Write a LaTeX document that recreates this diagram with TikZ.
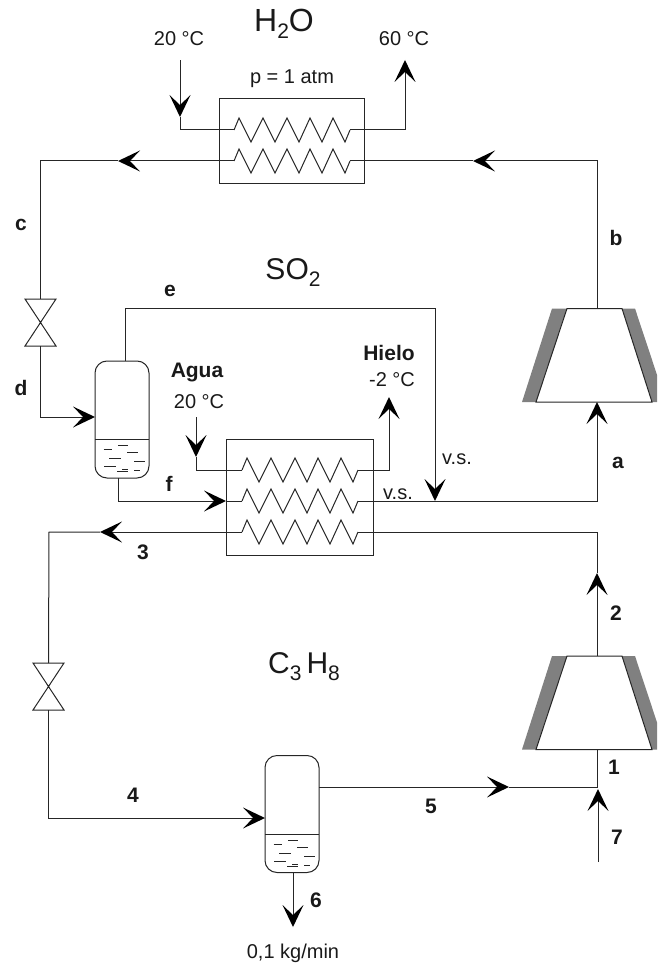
\documentclass[tikz,border=0pt]{standalone}
\usepackage{fontspec}
\setmainfont{Liberation Sans}
\usetikzlibrary{arrows.meta}
\newcommand{\subs}[1]{\raisebox{-7pt}{\fontsize{21}{24}\selectfont #1}}
\tikzset{
  x=1pt,y=-1pt,
  pipe/.style={line width=1pt,draw=black!85},
  flow/.style={pipe,-{Stealth[length=22pt,width=21pt,inset=10pt,line width=0pt,fill=black]}},
  lbl/.style={font=\fontsize{20}{24}\selectfont,inner sep=0pt,text=black!90},
  blbl/.style={font=\fontsize{21}{24}\selectfont\bfseries,inner sep=0pt,text=black!90},
  big/.style={font=\fontsize{30}{34}\selectfont,inner sep=0pt,text=black!90},
  box/.style={pipe,rectangle,inner sep=0pt,minimum width=#1},
  sepbox/.style={pipe,rectangle,rounded corners=12pt,inner sep=0pt,minimum width=54pt,minimum height=117pt},
  zig/.pic={
    \draw[pipe] (0,0)--(5,-12)--(17,12)--(29,-12)--(41,12)--(53,-12)--(65,12)--(76,-12)--(88,12)--(99,-12)--(111,12)--(116,0);
    \coordinate (-in) at (0,0);
    \coordinate (-out) at (116,0);
  },
  valvepic/.pic={
    \draw[pipe,line join=miter] (-15.5,-23.5)--(15.5,-23.5)--(-15.5,23.5)--(15.5,23.5)--cycle;
    \coordinate (-top) at (0,-23.5);
    \coordinate (-bot) at (0,23.5);
  },
  liquid/.pic={
    \draw[pipe,line width=.8pt]
      (8.5,10)--(17,10) (23,6)--(33,6) (32,13)--(43,13) (14,19.5)--(26,19.5)
      (39,22)--(50,22) (9,27.5)--(21,27.5) (22,32)--(33,32) (27,30.5)--(33,30.5) (39,31)--(45,31);
  },
  compressor/.pic={
    \fill[black!50] (-45,0)--(-30,0)--(-61,93.5)--(-75,93.5)--cycle;
    \fill[black!50] (25,0)--(38,0)--(69,93.5)--(55,93.5)--cycle;
    \draw[pipe,fill=white] (-30,0)--(25,0)--(55,93.5)--(-61,93.5)--cycle;
    \coordinate (-top) at (0,0);
    \coordinate (-bot) at (0,93.5);
  }
}
\begin{document}
\begin{tikzpicture}
\useasboundingbox (0,0) rectangle (657,968);
\clip (0,0) rectangle (657,968);

% heat exchangers
\node[box=145pt,draw,minimum height=85pt] (hx1) at (291.5,141.5) {};
\pic (z1) at (234,130) {zig};
\pic (z2) at (234,161) {zig};
\node[box=147pt,draw,minimum height=116pt] (hx2) at (299.5,497) {};
\pic (z3) at (242,470) {zig};
\pic (z4) at (242,501) {zig};
\pic (z5) at (242,532) {zig};

% valves
\pic (v1) at (40.5,322.5) {valvepic};
\pic (v2) at (48.5,686.5) {valvepic};

% separators
\node[sepbox,draw] (s1) at (122,419.5) {};
\draw[pipe] (95,439) -- (149,439);
\pic at (95,439) {liquid};
\node[sepbox,draw] (s2) at (292,814) {};
\draw[pipe] (265,834) -- (319,834);
\pic at (265,834) {liquid};

% compressors
\pic (c1) at (597,308.5) {compressor};
\pic (c2) at (597,656) {compressor};

% named points
\coordinate (w1s) at (180,60.5);
\coordinate (w1t) at (180,117);
\coordinate (w1c) at (180,130);
\coordinate (w2c) at (405,130);
\coordinate (w2t) at (405,60);
\coordinate (ba) at (473,161);
\coordinate (bc) at (597,161);
\coordinate (ca) at (118,161);
\coordinate (cc) at (40.5,161);
\coordinate (dc) at (40.5,417);
\coordinate (dt) at (95,417);
\coordinate (es) at (125,361);
\coordinate (e1) at (125,308.5);
\coordinate (e2) at (435,308.5);
\coordinate (et) at (435,501);
\coordinate (fs) at (118,478);
\coordinate (f1) at (118,501);
\coordinate (ft) at (226,501);
\coordinate (as) at (597,501);
\coordinate (hc) at (389,470);
\coordinate (ht) at (389,397);
\coordinate (ag0) at (196,417);
\coordinate (agt) at (196,457);
\coordinate (agc) at (196,470);
\coordinate (t3) at (100,532);
\coordinate (c3) at (49,532);
\coordinate (c4) at (48.5,818);
\coordinate (t4) at (265,818);
\coordinate (o5) at (319,787);
\coordinate (t5) at (509,787);
\coordinate (j5) at (597,787);
\coordinate (s7) at (598,862);
\coordinate (t7) at (598,789);
\coordinate (o6) at (293,873);
\coordinate (t6) at (293,927);
\coordinate (r2) at (597,532);
\coordinate (t2) at (597,573);

% upper water loop
\draw[flow] (w1s) -- (w1t);
\draw[pipe] (w1t) -- (w1c) -- (z1-in);
\draw[flow] (z1-out) -- (w2c) -- (w2t);

% SO2 loop
\draw[flow] (c1-top) -- (bc) -- (ba);
\draw[pipe] (ba) -- (z2-out);
\draw[flow] (z2-in) -- (ca);
\draw[pipe] (ca) -- (cc) -- (v1-top);
\draw[flow] (v1-bot) -- (dc) -- (dt);
\draw[flow] (es) -- (e1) -- (e2) -- (et);
\draw[flow] (fs) -- (f1) -- (ft);
\draw[pipe] (ft) -- (z4-in);
\draw[flow] (z4-out) -- (as) -- (c1-bot);

% ice water
\draw[flow] (ag0) -- (agt);
\draw[pipe] (agt) -- (agc) -- (z3-in);
\draw[flow] (z3-out) -- (hc) -- (ht);

% propane loop
\draw[pipe] (z5-out) -- (r2) -- (t2);
\draw[flow] (c2-top) -- (t2);
\draw[flow] (z5-in) -- (t3);
\draw[pipe] (t3) -- (c3) -- (v2-top);
\draw[flow] (v2-bot) -- (c4) -- (t4);
\draw[flow] (o5) -- (t5);
\draw[pipe] (t5) -- (j5) -- (c2-bot);
\draw[flow] (s7) -- (t7);
\draw[flow] (o6) -- (t6);

% labels
\node[big,font=\fontsize{32}{34}\selectfont] (tH) at (284,24) {H\subs{2}O};
\node[big] (tS) at (293,273) {SO\subs{2}};
\node[big] (tC) at (304,667) {C\subs{3}\,H\subs{8}};
\node[lbl] (l1) at (179,39) {20 °C};
\node[lbl] (l2) at (404,39) {60 °C};
\node[lbl] (l3) at (292,79) {p = 1 atm};
\node[lbl] (l4) at (199,402) {20 °C};
\node[lbl] (l5) at (392,380) {-2 °C};
\node[lbl] (l6) at (457,459) {v.s.};
\node[lbl] (l7) at (398,494) {v.s.};
\node[lbl] (l8) at (293,953) {0,1 kg/min};
\node[blbl] (b1) at (197,372) {Agua};
\node[blbl] (b2) at (389,353) {Hielo};
\node[blbl] (n1) at (21,225) {c};
\node[blbl] (n2) at (21,388) {d};
\node[blbl] (n3) at (170,291) {e};
\node[blbl] (n4) at (169,484) {f};
\node[blbl] (n5) at (616,238) {b};
\node[blbl] (n6) at (618,463) {a};
\node[blbl] (n7) at (143,552) {3};
\node[blbl] (n8) at (133,795) {4};
\node[blbl] (n9) at (431,806) {5};
\node[blbl] (n10) at (316,900) {6};
\node[blbl] (n11) at (617,837) {7};
\node[blbl] (n12) at (614,767) {1};
\node[blbl] (n13) at (616,613) {2};
\end{tikzpicture}
\end{document}
